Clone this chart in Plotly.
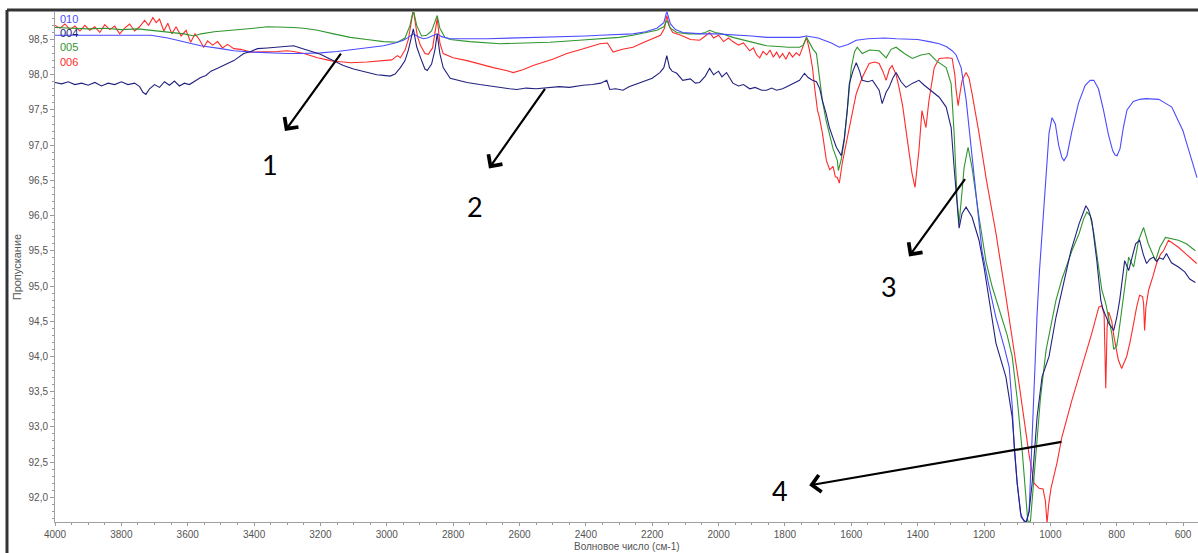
import plotly.graph_objects as go

# ---- IR spectra: wavenumber (cm-1) and transmittance (%) for each sample ----
wn_010 = [4000, 3900, 3800, 3711, 3660, 3600, 3561, 3500, 3461, 3400, 3360, 3300, 3260, 3200,
          3150, 3110, 3050, 3010, 2975, 2950, 2935, 2920, 2905, 2890, 2878, 2860, 2848, 2835,
          2809, 2700, 2600, 2500, 2400, 2358, 2300, 2258, 2220, 2186, 2165, 2156, 2145, 2130,
          2108, 2050, 2006, 1957, 1900, 1855, 1800, 1756, 1735, 1700, 1660, 1636, 1610, 1585,
          1550, 1500, 1464, 1400, 1365, 1335, 1314, 1296, 1284, 1269, 1254, 1239, 1224, 1206,
          1185, 1164, 1140, 1124, 1115, 1109, 1100, 1090, 1080, 1072, 1064, 1055, 1047, 1040,
          1033, 1028, 1020, 1013, 1004, 995, 985, 975, 965, 959, 950, 935, 915, 895, 880, 869,
          855, 840, 825, 812, 805, 799, 790, 780, 769, 750, 730, 712, 690, 673, 655, 634, 615,
          600, 592, 575, 558]
t_010 = [98.56, 98.56, 98.56, 98.56, 98.52, 98.45, 98.41, 98.37, 98.34, 98.32, 98.31, 98.30, 98.30, 98.31,
         98.33, 98.35, 98.38, 98.41, 98.45, 98.49, 98.53, 98.58, 98.54, 98.51, 98.52, 98.55, 98.58, 98.54,
         98.51, 98.51, 98.52, 98.53, 98.55, 98.56, 98.57, 98.58, 98.61, 98.66, 98.74, 98.90, 98.72, 98.64,
         98.60, 98.58, 98.58, 98.57, 98.55, 98.53, 98.53, 98.53, 98.55, 98.52, 98.45, 98.39, 98.43, 98.49,
         98.51, 98.52, 98.51, 98.50, 98.47, 98.44, 98.40, 98.34, 98.28, 98.10, 97.65, 96.95, 96.25, 95.50,
         95.00, 94.55, 94.15, 93.85, 93.30, 92.70, 92.20, 91.78, 91.66, 91.66, 91.80, 92.90, 93.90, 94.60,
         95.20, 95.55, 96.10, 96.68, 97.17, 97.39, 97.30, 97.00, 96.82, 96.78, 96.85, 97.20, 97.60, 97.85, 97.92, 97.92,
         97.80, 97.50, 97.15, 96.92, 96.86, 96.85, 96.95, 97.25, 97.50, 97.62, 97.65, 97.66, 97.66, 97.65, 97.60, 97.54, 97.35,
         97.20, 97.07, 96.80, 96.54]

wn_004 = [4000, 3980, 3960, 3940, 3920, 3900, 3880, 3860, 3840, 3820, 3800, 3780, 3760, 3745, 3735,
          3726, 3715, 3700, 3685, 3670, 3655, 3640, 3625, 3610, 3595, 3580, 3561, 3545, 3530, 3510,
          3495, 3480, 3461, 3445, 3431, 3410, 3390, 3360, 3330, 3300, 3281, 3260, 3230, 3200, 3179,
          3150, 3131, 3100, 3059, 3030, 3010, 2990, 2975, 2959, 2945, 2935, 2920, 2910, 2899, 2885,
          2878, 2865, 2855, 2848, 2840, 2830, 2809, 2780, 2758, 2720, 2680, 2658, 2630, 2608, 2580,
          2550, 2508, 2480, 2450, 2409, 2380, 2355, 2337, 2328, 2310, 2288, 2270, 2258, 2240, 2216,
          2200, 2177, 2165, 2156, 2148, 2140, 2126, 2108, 2085, 2070, 2057, 2040, 2027, 2015, 2000,
          1990, 1976, 1957, 1940, 1925, 1906, 1890, 1870, 1855, 1840, 1825, 1807, 1790, 1775, 1756,
          1741, 1730, 1717, 1705, 1695, 1687, 1676, 1666, 1655, 1645, 1630, 1621, 1612, 1606, 1595,
          1585, 1575, 1567, 1550, 1536, 1516, 1507, 1495, 1486, 1475, 1465, 1450, 1435, 1415, 1396,
          1380, 1366, 1350, 1335, 1314, 1299, 1290, 1281, 1275, 1266, 1254, 1236, 1215, 1200, 1185,
          1164, 1134, 1115, 1100, 1088, 1073, 1064, 1055, 1040, 1025, 1004, 983, 953, 938, 925, 913,
          900, 893, 885, 875, 860, 848, 842, 824, 809, 800, 791, 776, 764, 752, 743, 731, 720, 710,
          700, 689, 680, 671, 660, 650, 635, 614, 595, 580, 563]
t_004 = [97.89, 97.87, 97.90, 97.86, 97.88, 97.85, 97.89, 97.84, 97.88, 97.86, 97.90, 97.86, 97.88, 97.83, 97.75,
         97.72, 97.80, 97.86, 97.82, 97.90, 97.85, 97.91, 97.84, 97.88, 97.86, 97.90, 97.96, 97.99, 98.05, 98.09,
         98.12, 98.16, 98.20, 98.25, 98.30, 98.33, 98.37, 98.38, 98.39, 98.40, 98.41, 98.38, 98.34, 98.29, 98.24,
         98.18, 98.13, 98.08, 98.03, 98.00, 97.99, 97.98, 98.01, 98.10, 98.20, 98.35, 98.65, 98.40, 98.25, 98.08,
         98.06, 98.15, 98.35, 98.58, 98.30, 98.10, 97.95, 97.91, 97.89, 97.86, 97.83, 97.82, 97.80, 97.79, 97.81,
         97.80, 97.82, 97.83, 97.82, 97.85, 97.86, 97.88, 97.92, 97.79, 97.80, 97.78, 97.83, 97.85, 97.88, 97.92,
         97.95, 98.03, 98.10, 98.27, 98.10, 98.05, 98.02, 97.92, 97.94, 97.88, 97.89, 97.98, 98.09, 98.00, 98.05,
         97.97, 98.03, 97.88, 97.84, 97.86, 97.80, 97.82, 97.78, 97.78, 97.81, 97.78, 97.80, 97.84, 97.88, 97.92,
         98.02, 97.96, 97.92, 97.90, 97.80, 97.63, 97.45, 97.25, 97.10, 96.97, 96.85, 97.10, 97.50, 97.87, 98.05,
         98.17, 98.05, 97.92, 97.90, 97.92, 97.78, 97.59, 97.75, 97.82, 97.95, 98.03, 97.90, 97.82, 97.88, 97.92,
         97.85, 97.80, 97.74, 97.68, 97.54, 97.25, 96.68, 96.12, 95.82, 96.03, 96.12, 95.98, 95.65, 95.27, 94.80,
         94.19, 93.71, 93.14, 92.20, 91.72, 91.64, 91.80, 92.20, 93.14, 93.71, 94.00, 94.56, 95.22, 95.50, 95.70, 95.89,
         96.05, 96.14, 96.08, 95.93, 95.36, 94.80, 94.68, 94.47, 94.37, 94.55, 94.80, 95.36, 95.22, 95.45, 95.60, 95.65, 95.45, 95.32,
         95.38, 95.41, 95.35, 95.40, 95.38, 95.46, 95.33, 95.27, 95.20, 95.10, 95.05]

wn_005 = [4000, 3950, 3900, 3850, 3800, 3750, 3711, 3660, 3611, 3581, 3560, 3520, 3461, 3400, 3360,
          3320, 3281, 3250, 3209, 3160, 3110, 3060, 3010, 2968, 2945, 2930, 2920, 2910, 2895, 2880,
          2865, 2855, 2848, 2840, 2825, 2809, 2750, 2658, 2600, 2508, 2420, 2358, 2300, 2258, 2220,
          2186, 2165, 2156, 2145, 2126, 2090, 2057, 2040, 2027, 2010, 1990, 1957, 1920, 1890, 1855,
          1820, 1790, 1756, 1745, 1735, 1726, 1715, 1705, 1695, 1687, 1676, 1666, 1655, 1642, 1639,
          1630, 1621, 1610, 1600, 1590, 1582, 1567, 1545, 1516, 1495, 1480, 1465, 1440, 1416, 1390,
          1365, 1344, 1314, 1299, 1290, 1281, 1275, 1267, 1260, 1248, 1236, 1215, 1194, 1176, 1150,
          1130, 1115, 1100, 1085, 1075, 1068, 1060, 1052, 1043, 1030, 1013, 995, 983, 965, 953, 935,
          913, 900, 890, 880, 869, 854, 845, 833, 815, 809, 800, 794, 773, 764, 749, 734, 719, 705,
          683, 670, 653, 635, 614, 590, 563]
t_005 = [98.67, 98.66, 98.65, 98.66, 98.64, 98.65, 98.63, 98.61, 98.58, 98.55, 98.58, 98.61, 98.63, 98.66, 98.68,
         98.68, 98.67, 98.66, 98.63, 98.58, 98.53, 98.50, 98.47, 98.46, 98.52, 98.70, 98.92, 98.70, 98.55, 98.56,
         98.62, 98.75, 98.84, 98.66, 98.53, 98.50, 98.47, 98.44, 98.45, 98.46, 98.49, 98.51, 98.53, 98.56, 98.60,
         98.63, 98.68, 98.77, 98.66, 98.60, 98.58, 98.58, 98.60, 98.63, 98.60, 98.58, 98.53, 98.49, 98.45, 98.41,
         98.40, 98.39, 98.39, 98.42, 98.53, 98.45, 98.36, 98.30, 97.95, 97.63, 97.35, 97.17, 96.95, 96.78, 96.64,
         96.80, 97.07, 97.60, 98.10, 98.33, 98.39, 98.30, 98.35, 98.34, 98.24, 98.36, 98.39, 98.30, 98.23, 98.28,
         98.30, 98.20, 98.10, 97.87, 97.17, 96.22, 95.89, 96.30, 96.68, 96.97, 96.68, 95.98, 95.35, 95.00, 94.60,
         94.30, 94.00, 93.40, 92.67, 92.00, 91.66, 91.66, 92.10, 92.67, 93.40, 94.09, 94.55, 94.80, 95.10, 95.27, 95.50,
         95.75, 95.95, 96.05, 96.00, 95.75, 95.27, 94.95, 94.75, 94.33, 94.10, 94.15, 94.33, 95.04, 95.41, 95.27, 95.65, 95.83, 95.60,
         95.36, 95.55, 95.69, 95.67, 95.65, 95.60, 95.50]

wn_006 = [4000, 3985, 3970, 3955, 3940, 3925, 3910, 3895, 3880, 3865, 3850, 3835, 3820, 3805, 3790,
          3775, 3760, 3745, 3730, 3718, 3705, 3695, 3685, 3672, 3660, 3648, 3635, 3620, 3605, 3591,
          3578, 3565, 3552, 3540, 3525, 3510, 3495, 3480, 3461, 3440, 3410, 3380, 3330, 3300, 3281,
          3250, 3209, 3180, 3161, 3130, 3110, 3060, 3010, 2985, 2968, 2959, 2945, 2935, 2920, 2908,
          2899, 2885, 2875, 2862, 2848, 2840, 2830, 2800, 2758, 2720, 2679, 2640, 2619, 2590, 2559,
          2500, 2457, 2400, 2358, 2335, 2325, 2318, 2290, 2258, 2230, 2198, 2175, 2163, 2156, 2148,
          2138, 2120, 2108, 2085, 2057, 2040, 2027, 2015, 2000, 1985, 1970, 1957, 1940, 1925, 1906,
          1895, 1885, 1876, 1866, 1855, 1845, 1835, 1825, 1816, 1807, 1797, 1787, 1777, 1766, 1756,
          1745, 1735, 1726, 1717, 1710, 1702, 1696, 1687, 1675, 1665, 1655, 1648, 1642, 1636, 1627,
          1617, 1606, 1595, 1585, 1567, 1546, 1530, 1516, 1505, 1495, 1485, 1477, 1465, 1456, 1445,
          1435, 1425, 1417, 1408, 1400, 1396, 1387, 1380, 1375, 1366, 1350, 1335, 1310, 1296, 1288,
          1284, 1278, 1272, 1266, 1254, 1245, 1236, 1215, 1194, 1164, 1134, 1116, 1094, 1064, 1049,
          1034, 1022, 1015, 1010, 1005, 998, 980, 965, 935, 905, 875, 854, 845, 838, 833, 829, 824,
          815, 809, 795, 785, 770, 760, 749, 740, 731, 722, 719, 716, 712, 704, 690, 680, 668, 659,
          644, 630, 614, 590, 559]
t_006 = [98.70, 98.66, 98.72, 98.64, 98.69, 98.62, 98.70, 98.63, 98.68, 98.60, 98.71, 98.64, 98.69, 98.58, 98.66,
         98.72, 98.62, 98.68, 98.77, 98.70, 98.81, 98.74, 98.79, 98.62, 98.73, 98.58, 98.68, 98.55, 98.63, 98.46,
         98.58, 98.50, 98.39, 98.48, 98.42, 98.47, 98.38, 98.43, 98.37, 98.36, 98.32, 98.32, 98.33, 98.34, 98.33,
         98.30, 98.24, 98.21, 98.19, 98.18, 98.17, 98.18, 98.20, 98.21, 98.27, 98.24, 98.35, 98.50, 98.92, 98.55,
         98.42, 98.30, 98.29, 98.38, 98.80, 98.45, 98.30, 98.24, 98.20, 98.15, 98.10, 98.06, 98.03, 98.07, 98.13,
         98.22, 98.30, 98.38, 98.44, 98.45, 98.36, 98.32, 98.36, 98.39, 98.45, 98.51, 98.56, 98.66, 98.84, 98.68,
         98.60, 98.57, 98.55, 98.50, 98.49, 98.55, 98.60, 98.52, 98.56, 98.47, 98.52, 98.47, 98.42, 98.45, 98.34,
         98.38, 98.28, 98.24, 98.33, 98.28, 98.35, 98.25, 98.32, 98.24, 98.30, 98.22, 98.32, 98.25, 98.31, 98.27,
         98.40, 98.53, 98.35, 98.10, 97.80, 97.50, 97.39, 97.17, 96.78, 96.65, 96.70, 96.55, 96.54, 96.46, 96.75,
         97.00, 97.25, 97.50, 97.73, 97.96, 98.16, 98.18, 98.16, 98.05, 97.92, 98.08, 98.13, 98.00, 97.82, 97.55,
         97.21, 96.90, 96.60, 96.40, 96.70, 96.93, 97.49, 97.35, 97.25, 97.63, 98.10, 98.23, 98.24, 98.23, 98.00,
         97.78, 97.56, 97.75, 97.92, 98.03, 97.95, 97.73, 97.17, 96.54, 95.75, 94.85, 94.30, 93.60, 92.60, 92.20,
         92.13, 92.12, 91.95, 91.63, 91.90, 92.13, 92.49, 92.86, 93.38, 93.85, 94.33, 94.70, 94.72, 94.60, 93.55, 94.40, 94.63,
         94.50, 94.30, 93.95, 93.83, 94.00, 94.20, 94.47, 94.70, 94.87, 94.85, 94.75, 94.37, 94.70, 94.94, 95.15, 95.32, 95.45, 95.50,
         95.65, 95.60, 95.55, 95.45, 95.32]

sample_names = ["010", "004", "005", "006"]
sample_colors = ["#4b4bff", "#22227f", "#2f962f", "#ff2b2b"]
spectra = [(wn_010, t_010), (wn_004, t_004), (wn_005, t_005), (wn_006, t_006)]

x_ticks = list(range(4000, 599, -200))

# numbered callouts: (label, tail wn, tail T, head wn, head T, label wn, label T)
callouts = [
    ("1", 3135, 98.32, 3307, 97.20, 3352, 96.72),
    ("2", 2520, 97.82, 2692, 96.67, 2734, 96.13),
    ("3", 1254, 96.54, 1426, 95.42, 1486, 94.99),
    ("4", 962, 92.79, 1727, 92.17, 1815, 92.10),
]

fig = go.Figure()
# draw 006, 005, 010, 004 so the darker traces sit on top where they overlap
for idx in [3, 2, 0, 1]:
    wn, tr = spectra[idx]
    fig.add_trace(go.Scatter(x=wn, y=tr, mode="lines", name=sample_names[idx],
                             line=dict(color=sample_colors[idx], width=1.1),
                             showlegend=False, hoverinfo="x+y+name"))

annotations = []
# coloured sample labels stacked in the upper-left corner
for i, (name, col) in enumerate(zip(sample_names, sample_colors)):
    annotations.append(dict(xref="paper", yref="paper", x=0.003, y=0.986 - i * 0.0278,
                            text=name, showarrow=False, xanchor="left", yanchor="middle",
                            font=dict(family="Liberation Sans", size=11, color=col)))

for lab, ax_, ay_, hx, hy, lx, ly in callouts:
    annotations.append(dict(xref="x", yref="y", axref="x", ayref="y", x=hx, y=hy, ax=ax_, ay=ay_,
                            text="", showarrow=True, arrowhead=4, arrowsize=1.5, arrowwidth=2.2,
                            arrowcolor="black", standoff=0, startstandoff=0))
    annotations.append(dict(xref="x", yref="y", x=lx, y=ly, text=lab, showarrow=False,
                            font=dict(family="Lato", size=27, color="black")))

# axis titles
annotations.append(dict(xref="paper", yref="paper", x=-0.033, y=0.5, text="Пропускание",
                        textangle=-90, showarrow=False, xanchor="center", yanchor="middle",
                        font=dict(family="Liberation Sans", size=11, color="#555555")))
annotations.append(dict(xref="paper", yref="paper", x=0.5, y=-0.0608, text="Волновое число (см-1)",
                        showarrow=False, xanchor="center", yanchor="bottom", borderpad=0,
                        font=dict(family="Liberation Sans", size=10, color="#555555")))

# outer window frame along the top and left
shapes = [
    dict(type="line", xref="paper", yref="paper", x0=-0.042, x1=1.0, y0=1.004, y1=1.004,
         line=dict(color="#333333", width=3)),
    dict(type="line", xref="paper", yref="paper", x0=-0.042, x1=-0.042, y0=1.004, y1=-0.07,
         line=dict(color="#333333", width=3)),
]

fig.update_layout(
    width=1198, height=553,
    margin=dict(l=55, r=0, t=12, b=31),
    paper_bgcolor="white", plot_bgcolor="white",
    separators=",.",
    annotations=annotations, shapes=shapes,
    xaxis=dict(range=[4000, 555], tickvals=x_ticks, ticks="outside", ticklen=3, tickcolor="#999999",
               showline=True, linecolor="#a0a0a0", linewidth=1, showgrid=False, zeroline=False,
               tickfont=dict(family="Liberation Sans", size=10, color="#555555"),
               minor=dict(dtick=50, ticks="outside", ticklen=2, tickcolor="#999999", showgrid=False)),
    yaxis=dict(range=[91.65, 98.89], dtick=0.5, tick0=92, tickformat=".1f", ticks="outside", ticklen=4,
               tickcolor="#999999", showline=True, linecolor="#a0a0a0", linewidth=1, showgrid=False,
               zeroline=False, tickfont=dict(family="Liberation Sans", size=10, color="#555555"),
               minor=dict(dtick=0.1, ticks="outside", ticklen=2, tickcolor="#999999", showgrid=False)),
)

fig.write_html("out.html")
